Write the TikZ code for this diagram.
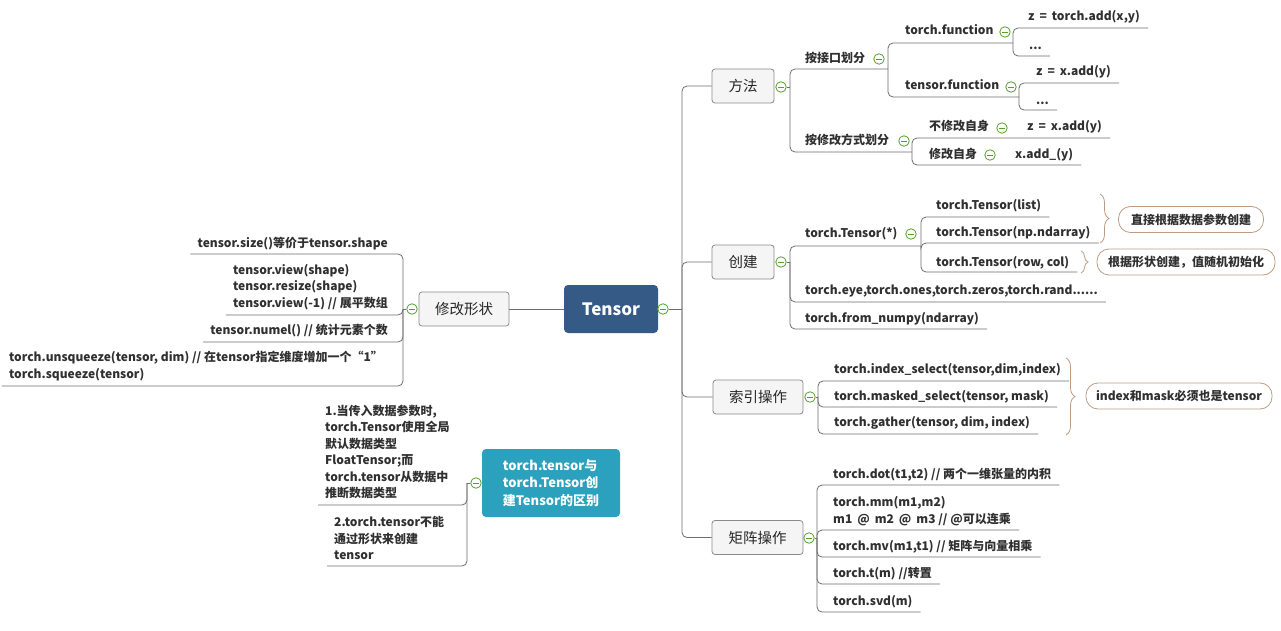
\documentclass[tikz,border=0pt]{standalone}
\usepackage{fontspec}
\setmainfont{Noto Sans CJK SC}
\usetikzlibrary{decorations.pathreplacing}
\definecolor{linec}{RGB}{110,110,110}
\definecolor{txt}{RGB}{48,48,48}
\definecolor{boxfill}{RGB}{245,245,245}
\definecolor{boxline}{RGB}{138,138,138}
\definecolor{rootc}{RGB}{54,90,134}
\definecolor{tealc}{RGB}{44,161,190}
\definecolor{iconc}{RGB}{86,160,44}
\definecolor{sumc}{RGB}{190,156,132}
\newcommand\leaffont{\fontsize{12}{16.5}\selectfont\bfseries}
\newcommand\wsp{\hspace{5pt}}
\newcommand\ulr[3]{\coordinate (tmpx) at ([xshift=8pt]#2.east); \draw[conn] (#1) |- (tmpx |- 0,#3);}
\newcommand\ull[3]{\coordinate (tmpx) at ([xshift=-7pt]#2.west); \draw[conn] (#1) |- (tmpx |- 0,#3);}
\tikzset{
  conn/.style={draw=linec, line width=0.8pt, rounded corners=5pt},
  leaf/.style={anchor=west, inner sep=0pt, font=\leaffont, text=txt, text height=10pt, text depth=2pt},
  mleaf/.style={inner sep=0pt, font=\leaffont, text=txt, align=left},
  topic/.style={draw=boxline, fill=boxfill, line width=0.8pt, rounded corners=3pt, minimum height=34pt, inner sep=0pt, font=\fontsize{14.5}{16}\selectfont, text=black!85},
  root/.style={fill=rootc, rounded corners=4pt, minimum width=94pt, minimum height=48pt, inner sep=0pt, font=\fontsize{17}{20}\selectfont\bfseries, text=white},
  tealbox/.style={fill=tealc, rounded corners=4pt, minimum width=138pt, minimum height=68pt, inner sep=0pt, font=\fontsize{13}{17.5}\selectfont\bfseries, text=white, align=left},
  icon/.style={circle, draw=iconc, fill=white, line width=0.8pt, minimum size=10.5pt, inner sep=0pt,
    path picture={\draw[iconc, line width=0.9pt] ([xshift=2.5pt]path picture bounding box.west) -- ([xshift=-2.5pt]path picture bounding box.east);}},
  summ/.style={draw=sumc, fill=white, line width=0.8pt, rounded corners=12pt, minimum height=26pt, inner sep=0pt, font=\leaffont, text=txt},
  bracec/.style={draw=sumc, line width=0.8pt, decorate, decoration={brace, amplitude=#1}},
}
\begin{document}
\begin{tikzpicture}[x=1pt,y=-1pt]
\useasboundingbox (0,0) rectangle (1281,631);
\fill[white] (0,0) rectangle (1281,631);

% ---------- root ----------
\node[root] (tensor) at (611,309) {Tensor};
\node[icon] (ic0) at (663,309) {};
\coordinate (rs) at (682,309);
\draw[conn] (ic0.east) -- (rs);

% ---------- main topics (right) ----------
\node[topic, minimum width=62pt] (ff) at (743,86) {方法};
\node[topic, minimum width=62pt] (cj) at (743,262) {创建};
\node[topic, minimum width=90pt] (sy) at (758,397) {索引操作};
\node[topic, minimum width=91pt] (jz) at (757.5,537.5) {矩阵操作};
\draw[conn] (rs) |- (ff.west);
\draw[conn] (rs) |- (cj.west);
\draw[conn] (rs) |- (sy.west);
\draw[conn] (rs) |- (jz.west);

% ---------- 方法 ----------
\node[icon] (ic1) at (781,87) {};
\coordinate (s1) at (790,87);
\draw[conn] (ic1.east) -- (s1);
\node[leaf] (jk) at (805,59) {按接口划分};
\node[icon] (ic2) at (879,59) {};
\coordinate (s2) at (888,69);
\draw[conn] (s1) |- (s2);
\node[leaf] (xg) at (805,141) {按修改方式划分};
\node[icon] (ic3) at (904,141) {};
\coordinate (s3) at (912,152);
\draw[conn] (s1) |- (s3);

\node[leaf] (tfun) at (905,31) {torch.function};
\node[icon] (ic4) at (1005,32) {};
\coordinate (s4) at (1013,43);
\draw[conn] (s2) |- (s4);
\node[leaf] (tsf) at (905,86) {tensor.function};
\node[icon] (ic5) at (1011,87) {};
\coordinate (s5) at (1019,97);
\draw[conn] (s2) |- (s5);

\node[leaf] (z1) at (1028,17) {z\wsp=\wsp torch.add(x,y)};
\ulr{s4}{z1}{28}
\node[leaf] (d1) at (1029,46) {...};
\ulr{s4}{d1}{56}
\node[leaf] (z2) at (1036,72) {z\wsp=\wsp x.add(y)};
\ulr{s5}{z2}{83}
\node[leaf] (d2) at (1036,101) {...};
\ulr{s5}{d2}{110}

\node[leaf] (bx) at (929,127) {不修改自身};
\node[icon] (ic6) at (1002,128) {};
\node[leaf] (z3) at (1027,127) {z\wsp=\wsp x.add(y)};
\ulr{s3}{z3}{138}
\node[leaf] (xz) at (929,155) {修改自身};
\node[icon] (ic7) at (990,155) {};
\node[leaf] (xa) at (1015,155) {x.add\_(y)};
\ulr{s3}{xa}{165}

% ---------- 创建 ----------
\node[icon] (ic8) at (781,262) {};
\coordinate (s6) at (790,262);
\draw[conn] (ic8.east) -- (s6);
\node[leaf] (tt) at (805,233) {torch.Tensor(*)};
\node[icon] (ic9) at (911,234) {};
\coordinate (s7) at (921,246);
\draw[conn] (s6) |- (s7);
\node[leaf] (tl) at (936,205) {torch.Tensor(list)};
\ulr{s7}{tl}{217}
\node[leaf] (tn) at (936,232) {torch.Tensor(np.ndarray)};
\ulr{s7}{tn}{243}
\node[leaf] (tr) at (936,262) {torch.Tensor(row, col)};
\ulr{s7}{tr}{272}
\node[leaf] (te) at (805,290) {torch.eye,torch.ones,torch.zeros,torch.rand......};
\ulr{s6}{te}{302}
\node[leaf] (tfn) at (805,318) {torch.from\_numpy(ndarray)};
\ulr{s6}{tfn}{329}

\draw[bracec=9pt] (1100,194) -- (1100,243);
\node[summ, minimum width=145pt] (sum1) at (1191,219.5) {直接根据数据参数创建};
\draw[bracec=7pt] (1081,251) -- (1081,273);
\node[summ, minimum width=178pt] (sum2) at (1186,262) {根据形状创建，值随机初始化};

% ---------- 索引操作 ----------
\node[icon] (ic10) at (810,397) {};
\coordinate (s8) at (818,397);
\draw[conn] (ic10.east) -- (s8);
\node[leaf] (isel) at (834,369) {torch.index\_select(tensor,dim,index)};
\ulr{s8}{isel}{381}
\node[leaf] (msel) at (834,396) {torch.masked\_select(tensor, mask)};
\ulr{s8}{msel}{407}
\node[leaf] (gat) at (834,422) {torch.gather(tensor, dim, index)};
\ulr{s8}{gat}{434}
\draw[bracec=9pt] (1066,358) -- (1066,435);
\node[summ, minimum width=186pt] (sum3) at (1179,396) {index和mask必须也是tensor};

% ---------- 矩阵操作 ----------
\node[icon] (ic11) at (809,538) {};
\coordinate (s9) at (817,538);
\draw[conn] (ic11.east) -- (s9);
\node[leaf] (dot) at (833,474) {torch.dot(t1,t2) // 两个一维张量的内积};
\ulr{s9}{dot}{485}
\node[mleaf, anchor=west] (mm) at (833,511) {torch.mm(m1,m2)\\m1\wsp@\wsp m2\wsp@\wsp m3 // @可以连乘};
\ulr{s9}{mm}{530}
\node[leaf] (mv) at (833,546) {torch.mv(m1,t1) // 矩阵与向量相乘};
\ulr{s9}{mv}{557}
\node[leaf] (tm) at (833,573) {torch.t(m) //转置};
\ulr{s9}{tm}{584}
\node[leaf] (svd) at (833,601) {torch.svd(m)};
\ulr{s9}{svd}{612}

% ---------- 修改形状 (left) ----------
\node[topic, minimum width=90pt] (xzs) at (464,309) {修改形状};
\draw[conn] (tensor.west) -- (xzs.east);
\node[icon] (ic12) at (412,309) {};
\coordinate (s10) at (403,309);
\draw[conn] (ic12.west) -- (s10);
\node[leaf, anchor=east] (sz) at (388,243) {tensor.size()等价于tensor.shape};
\ull{s10}{sz}{254}
\node[mleaf, anchor=east] (vw) at (388,287) {tensor.view(shape)\\tensor.resize(shape)\\tensor.view(-1) // 展平数组};
\ull{s10}{vw}{315}
\node[leaf, anchor=east] (nm) at (388,330) {tensor.numel() // 统计元素个数};
\ull{s10}{nm}{342}
\node[mleaf, anchor=east] (us) at (383,366) {torch.unsqueeze(tensor, dim) // 在tensor指定维度增加一个“1”\\torch.squeeze(tensor)};
\ull{s10}{us}{386}

% ---------- floating topic ----------
\node[tealbox] (qb) at (551,483) {torch.tensor与\\torch.Tensor创\\建Tensor的区别};
\node[icon] (ic13) at (476,483) {};
\coordinate (s11) at (467,483);
\draw[conn] (ic13.west) -- (s11);
\node[mleaf, anchor=west] (it1) at (325,452) {1.当传入数据参数时,\\torch.Tensor使用全局\\默认数据类型\\FloatTensor;而\\torch.tensor从数据中\\推断数据类型};
\ull{s11}{it1}{505}
\node[mleaf, anchor=west] (it2) at (334,538) {2.torch.tensor不能\\通过形状来创建\\tensor};
\ull{s11}{it2}{566}
\end{tikzpicture}
\end{document}
